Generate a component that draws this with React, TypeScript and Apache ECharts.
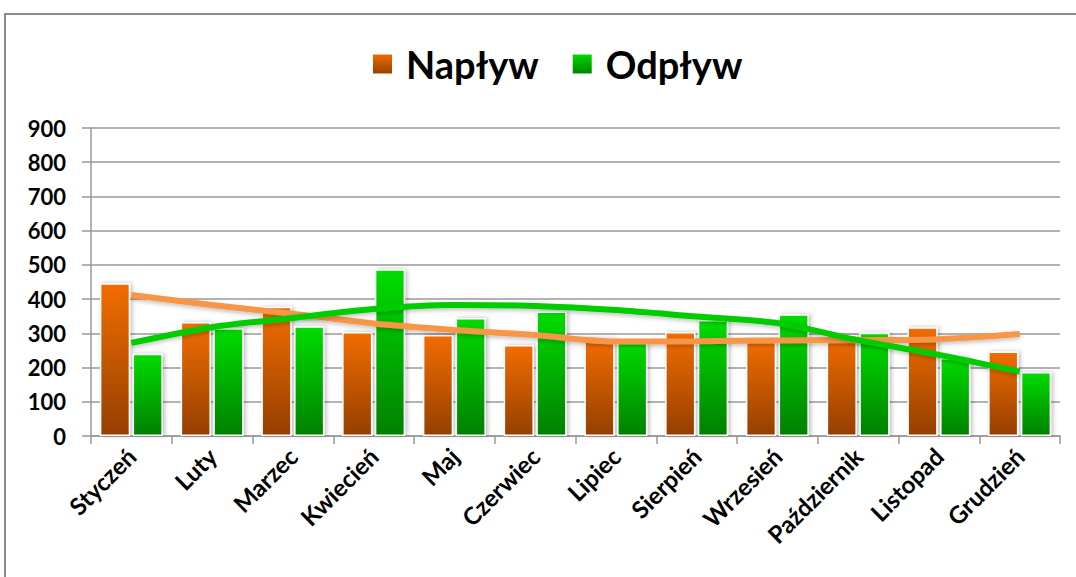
import React, { useEffect, useRef } from "react";
import * as echarts from "echarts";

const months = ["Styczeń", "Luty", "Marzec", "Kwiecień", "Maj", "Czerwiec", "Lipiec", "Sierpień", "Wrzesień", "Październik", "Listopad", "Grudzień"];
const naplyw = [446, 333, 378, 304, 295, 266, 285, 304, 283, 295, 318, 247];
const odplyw = [240, 315, 321, 487, 345, 364, 275, 339, 356, 302, 228, 187];
const naplywTrend = [412, 383, 357, 329, 310, 295, 276, 277, 279, 280, 283, 298];
const odplywTrend = [272, 318, 345, 371, 383, 380, 368, 349, 330, 280, 237, 188];
const yTicks = [0, 100, 200, 300, 400, 500, 600, 700, 800, 900];

const FONT = "Lato, 'DejaVu Sans', sans-serif";

export default function App() {
  const ref = useRef<HTMLDivElement>(null);
  useEffect(() => {
    if (!ref.current) return;
    const chart = echarts.init(ref.current, undefined, { renderer: "svg" });
    const orangeGrad = new echarts.graphic.LinearGradient(0, 0, 0, 1, [
      { offset: 0, color: "#f26d00" },
      { offset: 1, color: "#953f00" },
    ]);
    const greenGrad = new echarts.graphic.LinearGradient(0, 0, 0, 1, [
      { offset: 0, color: "#00dc00" },
      { offset: 1, color: "#008000" },
    ]);
    chart.setOption({
      animation: false,
      backgroundColor: "#ffffff",
      graphic: [
        {
          type: "rect",
          shape: { x: 5, y: 14, width: 1100, height: 600 },
          style: { fill: "none", stroke: "#8c8c8c", lineWidth: 2 },
          z: 100,
          silent: true,
        },
      ],
      legend: {
        data: ["Napływ", "Odpływ"],
        top: 40,
        left: 366,
        icon: "rect",
        itemWidth: 21,
        itemHeight: 21,
        itemGap: 32,
        textStyle: {
          fontFamily: FONT,
          fontWeight: "bold",
          fontSize: 38,
          color: "#000",
          padding: [0, 0, 0, 8],
        },
      },
      grid: { left: 91, right: 16, top: 128, bottom: 141, containLabel: false },
      xAxis: {
        type: "category",
        data: months,
        axisLine: { lineStyle: { color: "#999", width: 1.5 } },
        axisTick: { show: true, length: 8, lineStyle: { color: "#999", width: 1.5 } },
        axisLabel: {
          rotate: 45,
          interval: 0,
          margin: 16,
          fontFamily: FONT,
          fontWeight: "bold",
          fontSize: 24,
          color: "#000",
        },
      },
      yAxis: {
        type: "value",
        min: 0,
        max: 900,
        interval: 100,
        axisLine: { show: true, lineStyle: { color: "#999", width: 1.5 } },
        axisTick: { show: true, length: 9, lineStyle: { color: "#999", width: 1.5 } },
        splitLine: { lineStyle: { color: "#9a9a9a", width: 1.5 } },
        axisLabel: {
          margin: 25,
          fontFamily: FONT,
          fontWeight: "bold",
          fontSize: 22,
          color: "#000",
          formatter: (v: number) => (yTicks.includes(v) ? String(v) : ""),
        },
      },
      series: [
        {
          name: "Napływ",
          type: "bar",
          data: naplyw,
          barGap: "8%",
          barCategoryGap: "22%",
          itemStyle: {
            color: orangeGrad,
            borderColor: "#ffffff",
            borderWidth: 1.5,
            shadowColor: "rgba(0,0,0,0.25)",
            shadowBlur: 4,
            shadowOffsetX: 2,
          },
        },
        {
          name: "Odpływ",
          type: "bar",
          data: odplyw,
          itemStyle: {
            color: greenGrad,
            borderColor: "#ffffff",
            borderWidth: 1.5,
            shadowColor: "rgba(0,0,0,0.25)",
            shadowBlur: 4,
            shadowOffsetX: 2,
          },
        },
        {
          name: "Trend Napływ",
          type: "line",
          data: naplywTrend,
          smooth: 0.3,
          symbol: "none",
          z: 5,
          lineStyle: {
            color: "#f79646",
            width: 6,
            shadowColor: "rgba(0,0,0,0.25)",
            shadowBlur: 4,
            shadowOffsetY: 2,
          },
        },
        {
          name: "Trend Odpływ",
          type: "line",
          data: odplywTrend,
          smooth: 0.3,
          symbol: "none",
          z: 6,
          lineStyle: {
            color: "#00cc00",
            width: 6,
            shadowColor: "rgba(0,0,0,0.25)",
            shadowBlur: 4,
            shadowOffsetY: 2,
          },
        },
      ],
    });
    return () => chart.dispose();
  }, []);
  return (
    <div
      ref={ref}
      style={{ position: "fixed", left: 0, top: 0, width: 1076, height: 577 }}
    />
  );
}
